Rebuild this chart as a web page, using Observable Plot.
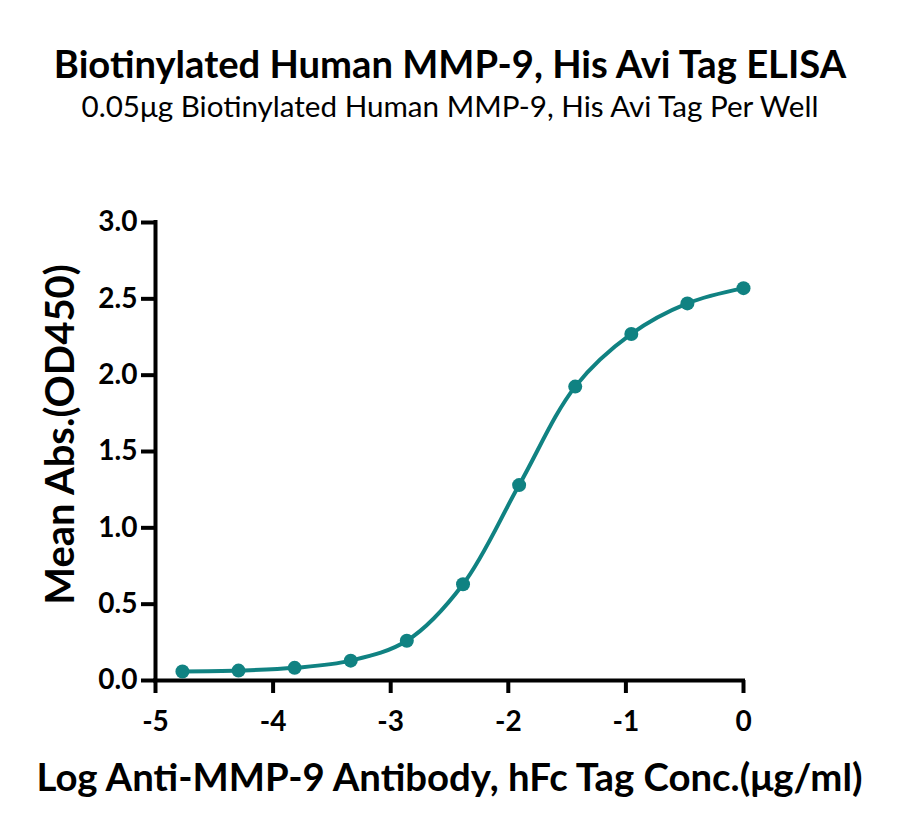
<!DOCTYPE html>
<html>
<head>
<meta charset="utf-8">
<script src="https://cdn.jsdelivr.net/npm/d3@7"></script>
<script src="https://cdn.jsdelivr.net/npm/@observablehq/plot@0.6"></script>
<style>
  html, body { margin: 0; padding: 0; background: #fff; }
  #wrap { width: 900px; height: 833px; position: relative; font-family: "Lato", "Open Sans", sans-serif; }
  #header { height: 130px; position: relative; }
  #title { position: absolute; left: 0; width: 900px; top: 44px; text-align: center; font-weight: bold; color: #000; line-height: 1; white-space: nowrap; }
  #subtitle { position: absolute; left: 0; width: 900px; top: 91px; text-align: center; font-weight: normal; color: #000; line-height: 1; white-space: nowrap; }
  svg { display: block; }
</style>
</head>
<body>
<div id="wrap">
  <div id="header">
    <div id="title"></div>
    <div id="subtitle"></div>
  </div>
  <div id="chart"></div>
</div>
<script>
const titleText = "Biotinylated Human MMP-9, His Avi Tag ELISA";
const subtitleText = "0.05μg Biotinylated Human MMP-9, His Avi Tag Per Well";
const xLabel = "Log Anti-MMP-9 Antibody, hFc Tag Conc.(μg/ml)";
const yLabel = "Mean Abs.(OD450)";

const logConc = [-4.771, -4.294, -3.817, -3.340, -2.863, -2.385, -1.908, -1.431, -0.954, -0.477, 0];
const meanAbs = [0.059, 0.065, 0.083, 0.13, 0.26, 0.63, 1.28, 1.925, 2.27, 2.47, 2.57];
const xTicks = [-5, -4, -3, -2, -1, 0];
const yTicks = [0, 0.5, 1.0, 1.5, 2.0, 2.5, 3.0];

const data = logConc.map((x, i) => ({x, y: meanAbs[i]}));
const teal = "#108282";
const FONT = "Lato";

function fit(text, weight, target) {
  const c = document.createElement("canvas").getContext("2d");
  c.font = `${weight} 100px "${FONT}"`;
  const w = c.measureText(text).width;
  return 100 * target / w;
}

const t = document.getElementById("title");
t.textContent = titleText;
t.style.fontSize = fit(titleText, "bold", 795) + "px";
const s = document.getElementById("subtitle");
s.textContent = subtitleText;
s.style.fontSize = fit(subtitleText, "normal", 740) + "px";

const xLabelSize = fit(xLabel, "bold", 830);
const yLabelSize = fit(yLabel, "bold", 342);

const chart = Plot.plot({
  width: 900,
  height: 703,
  marginLeft: 155,
  marginRight: 157,
  marginTop: 92,
  marginBottom: 153,
  style: {fontFamily: FONT, fontWeight: "bold", color: "#000", background: "#fff"},
  x: {domain: [-5, 0]},
  y: {domain: [0, 3]},
  marks: [
    Plot.axisX({ticks: xTicks, tickSize: 13, strokeWidth: 4, tickPadding: 18, fontSize: 28, fontWeight: "bold", tickFormat: d => String(d), label: null}),
    Plot.axisY({ticks: yTicks, tickSize: 14, strokeWidth: 4, tickPadding: 4, fontSize: 28, fontWeight: "bold", tickFormat: d3.format(".1f"), label: null}),
    Plot.ruleX([-5], {y1: 0, y2: 3, stroke: "#000", strokeWidth: 4, strokeLinecap: "square"}),
    Plot.ruleY([0], {x1: -5, x2: 0, stroke: "#000", strokeWidth: 4, strokeLinecap: "square"}),
    Plot.line(data, {x: "x", y: "y", stroke: teal, strokeWidth: 4, curve: "catmull-rom"}),
    Plot.dot(data, {x: "x", y: "y", r: 7, fill: teal, stroke: "none"}),
    Plot.text([xLabel], {frameAnchor: "bottom", dy: 98, text: d => d, fontSize: xLabelSize, fontWeight: "bold", lineAnchor: "middle", fill: "#000"}),
    Plot.text([yLabel], {frameAnchor: "left", dx: -94, dy: -17, rotate: -90, text: d => d, fontSize: yLabelSize, fontWeight: "bold", lineAnchor: "middle", textAnchor: "middle", fill: "#000"})
  ]
});
document.getElementById("chart").appendChild(chart);
</script>
</body>
</html>
